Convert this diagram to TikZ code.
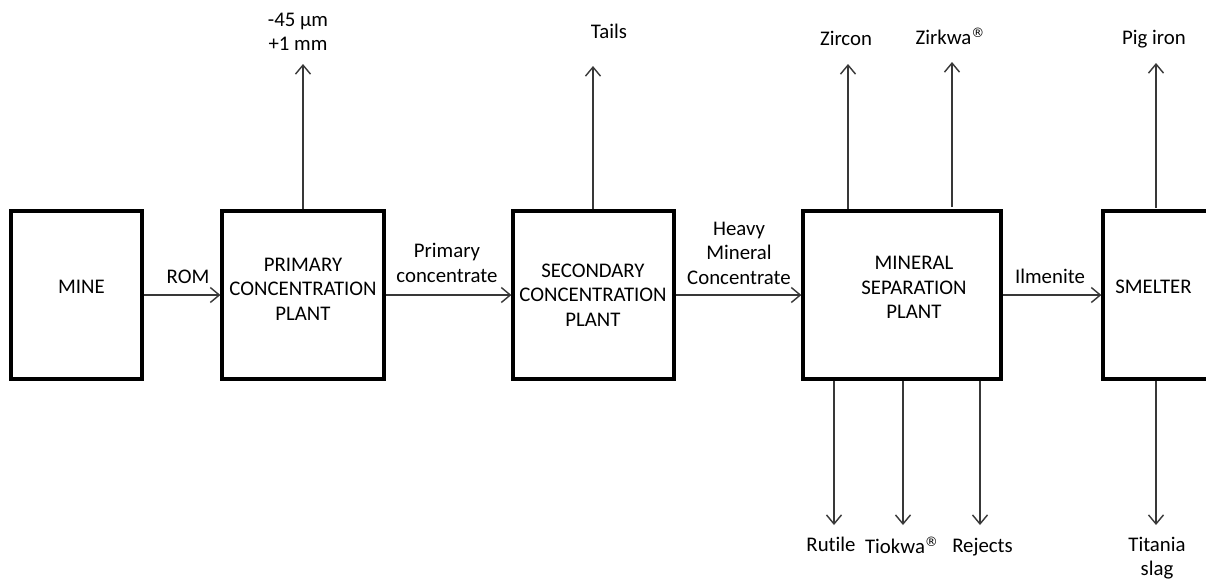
\documentclass[tikz,border=0pt]{standalone}
\usepackage{fontspec}
\setmainfont{Carlito}[Ligatures=NoCommon]
\newfontfamily\symfont{DejaVu Sans}
\usetikzlibrary{arrows.meta}
\newcommand{\regmark}{\raisebox{3.6pt}{\symfont\fontsize{6.5}{6.5}\selectfont ®}}
\begin{document}
\begin{tikzpicture}[x=0.5pt,y=-0.5pt,
  plant/.style={draw=black,line width=1.6pt,minimum height=84pt,inner sep=0pt},
  caption/.style={font=\fontsize{10.4}{12.25}\selectfont,align=center,inner sep=0pt},
  flow/.style={draw=black!78,line width=0.7pt,-{Straight Barb[length=4.5pt,width=7.5pt,line width=0.7pt]}}]
\clip (0,0) rectangle (1206,580);
\fill[white] (0,0) rectangle (1206,580);

% process units
\node[plant,minimum width=65.5pt] (mine) at (76.5,295) {};
\node[plant,minimum width=81pt]   (pcp)  at (303,295) {};
\node[plant,minimum width=80.5pt] (scp)  at (593.5,295) {};
\node[plant,minimum width=99pt]   (msp)  at (902,295) {};
\node[plant,minimum width=63.5pt] (sm)   at (1166.5,295) {};

% unit names
\node[caption] (mineT) at (81.5,287) {MINE};
\node[caption] (pcpT)  at (303,289) {PRIMARY\\CONCENTRATION\\PLANT};
\node[caption] (scpT)  at (593,295) {SECONDARY\\CONCENTRATION\\PLANT};
\node[caption] (mspT)  at (914,287.5) {MINERAL\\SEPARATION\\PLANT};
\node[caption] (smT)   at (1153.5,287) {SMELTER};

% stream labels between units
\node[caption] (rom)  at (188,276.5) {ROM};
\node[caption] (pc)   at (447,263) {Primary\\concentrate};
\node[caption] (hmc)  at (739,253) {Heavy\\Mineral\\Concentrate};
\node[caption] (ilm)  at (1050,276) {Ilmenite};

% product labels
\node[caption] (size)   at (298,32) {-45 µm\\+1 mm};
\node[caption] (tails)  at (609,31) {Tails};
\node[caption] (zircon) at (846,38) {Zircon};
\node[caption] (zirkwa) at (950,36) {Zirkwa\regmark};
\node[caption] (pig)    at (1154,39) {Pig iron};
\node[caption] (rutile) at (831,544) {Rutile};
\node[caption] (tiokwa) at (901.5,545) {Tiokwa\regmark};
\node[caption] (rej)    at (982.5,547) {Rejects};
\node[caption] (slag)   at (1157,558) {Titania\\slag};

% main flow
\draw[flow] (mine.east |- 0,295) -- (pcp.west |- 0,295);
\draw[flow] (pcp.east |- 0,295) -- (scp.west |- 0,295);
\draw[flow] (scp.east |- 0,295) -- (msp.west |- 0,295);
\draw[flow] (msp.east |- 0,295) -- (sm.west |- 0,295);

% streams leaving upward
\coordinate (sizeE)   at (303,64);
\coordinate (tailsE)  at (593,66);
\coordinate (zirconE) at (848,64);
\coordinate (zirkwaE) at (952,62);
\coordinate (pigE)    at (1156,63);
\draw[flow] (pcp.north -| sizeE) -- (sizeE);
\draw[flow] (scp.north -| tailsE) -- (tailsE);
\draw[flow] (msp.north -| zirconE) -- (zirconE);
\draw[flow] (952,207) -- (zirkwaE);
\draw[flow] (1156,208) -- (pigE);

% streams leaving downward
\coordinate (rutileE) at (834,525);
\coordinate (tiokwaE) at (903,525);
\coordinate (rejE)    at (980,525);
\coordinate (slagE)   at (1156,525);
\draw[flow] (msp.south -| rutileE) -- (rutileE);
\draw[flow] (msp.south -| tiokwaE) -- (tiokwaE);
\draw[flow] (msp.south -| rejE) -- (rejE);
\draw[flow] (sm.south -| slagE) -- (slagE);
\end{tikzpicture}
\end{document}
